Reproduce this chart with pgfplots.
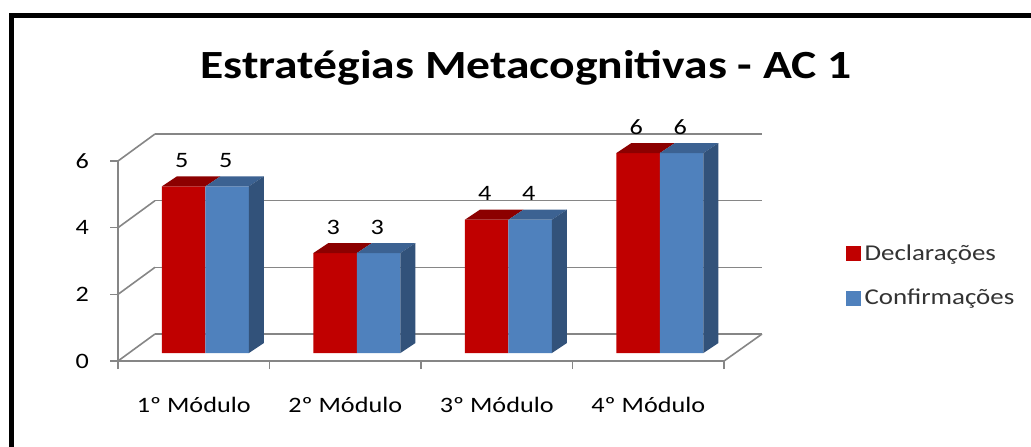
\documentclass[border=0pt]{standalone}
\usepackage{fontspec}
\setmainfont{Carlito}[FakeStretch=1.19]
\usepackage{pgfplots}
\pgfplotsset{compat=1.18}
\definecolor{redf}{RGB}{192,0,0}
\definecolor{redt}{RGB}{140,0,0}
\definecolor{bluef}{RGB}{79,129,189}
\definecolor{bluet}{RGB}{60,98,146}
\definecolor{blues}{RGB}{50,82,122}
\definecolor{gridc}{RGB}{134,134,134}

\begin{document}
\begin{tikzpicture}[x=1pt,y=1pt]
\useasboundingbox (-59,-42.5) rectangle (456.5,180.5);
\fill[white] (-59,-42.5) rectangle (456.5,180.5);
\draw[line width=2.5pt] (-53.25,-60) -- (-53.25,172.75) -- (480,172.75);
\node[anchor=base,font=\fontsize{20}{24}\selectfont\bfseries] at (204,141.5)
  {Estratégias Metacognitivas - AC 1};
\begin{axis}[
  at={(0,0)}, anchor=south west, scale only axis,
  width=303pt, height=100pt,
  xmin=0, xmax=4, ymin=-0.24, ymax=5.76, clip=false,
  axis lines*=left, axis line style={gridc,line width=0.8pt},
  tick align=outside, tick pos=left,
  xtick={0.5,1.5,2.5,3.5},
  xticklabels={1º Módulo,2º Módulo,3º Módulo,4º Módulo},
  major x tick style={draw=none},
  minor xtick={0,1,2,3,4},
  minor x tick style={gridc,line width=0.8pt},
  minor tick length=4pt, major tick length=4pt,
  ytick={-0.24,1.76,3.76,5.76}, yticklabels={0,2,4,6},
  y tick style={gridc,line width=0.8pt},
  ticklabel style={font=\fontsize{11}{13}\selectfont},
  yticklabel style={xshift=-7pt},
  xticklabel style={yshift=-10.5pt},
  /pgf/number format/assume math mode=true,
  legend style={at={(1.2,0.605)}, anchor=north west, draw=none, fill=none,
    font=\fontsize{11.3}{14}\selectfont, row sep=9pt, inner sep=0pt,
    text=black!80},
  legend cell align=left,
]
% back wall and floor
\addplot[gridc,line width=0.8pt,forget plot] coordinates {(0.244,0.57) (4.251,0.57)};
\addplot[gridc,line width=0.8pt,forget plot] coordinates {(0.244,2.57) (4.251,2.57)};
\addplot[gridc,line width=0.8pt,forget plot] coordinates {(0.244,4.57) (4.251,4.57)};
\addplot[gridc,line width=0.8pt,forget plot] coordinates {(0.244,6.57) (4.251,6.57)};
\addplot[gridc,line width=0.8pt,forget plot] coordinates {(0,-0.24) (0.244,0.57)};
\addplot[gridc,line width=0.8pt,forget plot] coordinates {(0,1.76) (0.244,2.57)};
\addplot[gridc,line width=0.8pt,forget plot] coordinates {(0,3.76) (0.244,4.57)};
\addplot[gridc,line width=0.8pt,forget plot] coordinates {(0,5.76) (0.244,6.57)};
\addplot[gridc,line width=0.8pt,forget plot] coordinates {(4,-0.24) (4.251,0.57)};
% front faces
\addplot[ybar, bar width=0.287, bar shift=-0.0665, fill=redf, draw=none,
  nodes near coords, nodes near coords style={font=\fontsize{11}{13}\selectfont,
  anchor=center, xshift=-6pt, yshift=13pt, text=black},
  legend image code/.code={\fill[redf] (0pt,-3.75pt) rectangle (7.5pt,3.75pt);}]
  coordinates {(0.5,5) (1.5,3) (2.5,4) (3.5,6)};
\addplot[ybar, bar width=0.287, bar shift=0.2205, fill=bluef, draw=none,
  nodes near coords, nodes near coords style={font=\fontsize{11}{13}\selectfont,
  anchor=center, xshift=16pt, yshift=13pt, text=black},
  legend image code/.code={\fill[bluef] (0pt,-3.75pt) rectangle (7.5pt,3.75pt);}]
  coordinates {(0.5,5) (1.5,3) (2.5,4) (3.5,6)};
% tops and sides
\addplot[fill=redt,draw=none,forget plot] coordinates {(0.29,5) (0.389,5.3) (0.676,5.3) (0.577,5) (0.29,5)};
\addplot[fill=bluet,draw=none,forget plot] coordinates {(0.577,5) (0.676,5.3) (0.963,5.3) (0.864,5) (0.577,5)};
\addplot[fill=blues,draw=none,forget plot] coordinates {(0.864,0) (0.963,0.3) (0.963,5.3) (0.864,5) (0.864,0)};
\addplot[fill=redt,draw=none,forget plot] coordinates {(1.29,3) (1.389,3.3) (1.676,3.3) (1.577,3) (1.29,3)};
\addplot[fill=bluet,draw=none,forget plot] coordinates {(1.577,3) (1.676,3.3) (1.963,3.3) (1.864,3) (1.577,3)};
\addplot[fill=blues,draw=none,forget plot] coordinates {(1.864,0) (1.963,0.3) (1.963,3.3) (1.864,3) (1.864,0)};
\addplot[fill=redt,draw=none,forget plot] coordinates {(2.29,4) (2.389,4.3) (2.676,4.3) (2.577,4) (2.29,4)};
\addplot[fill=bluet,draw=none,forget plot] coordinates {(2.577,4) (2.676,4.3) (2.963,4.3) (2.864,4) (2.577,4)};
\addplot[fill=blues,draw=none,forget plot] coordinates {(2.864,0) (2.963,0.3) (2.963,4.3) (2.864,4) (2.864,0)};
\addplot[fill=redt,draw=none,forget plot] coordinates {(3.29,6) (3.389,6.3) (3.676,6.3) (3.577,6) (3.29,6)};
\addplot[fill=bluet,draw=none,forget plot] coordinates {(3.577,6) (3.676,6.3) (3.963,6.3) (3.864,6) (3.577,6)};
\addplot[fill=blues,draw=none,forget plot] coordinates {(3.864,0) (3.963,0.3) (3.963,6.3) (3.864,6) (3.864,0)};
\legend{Declarações,Confirmações}
\end{axis}
\end{tikzpicture}
\end{document}
